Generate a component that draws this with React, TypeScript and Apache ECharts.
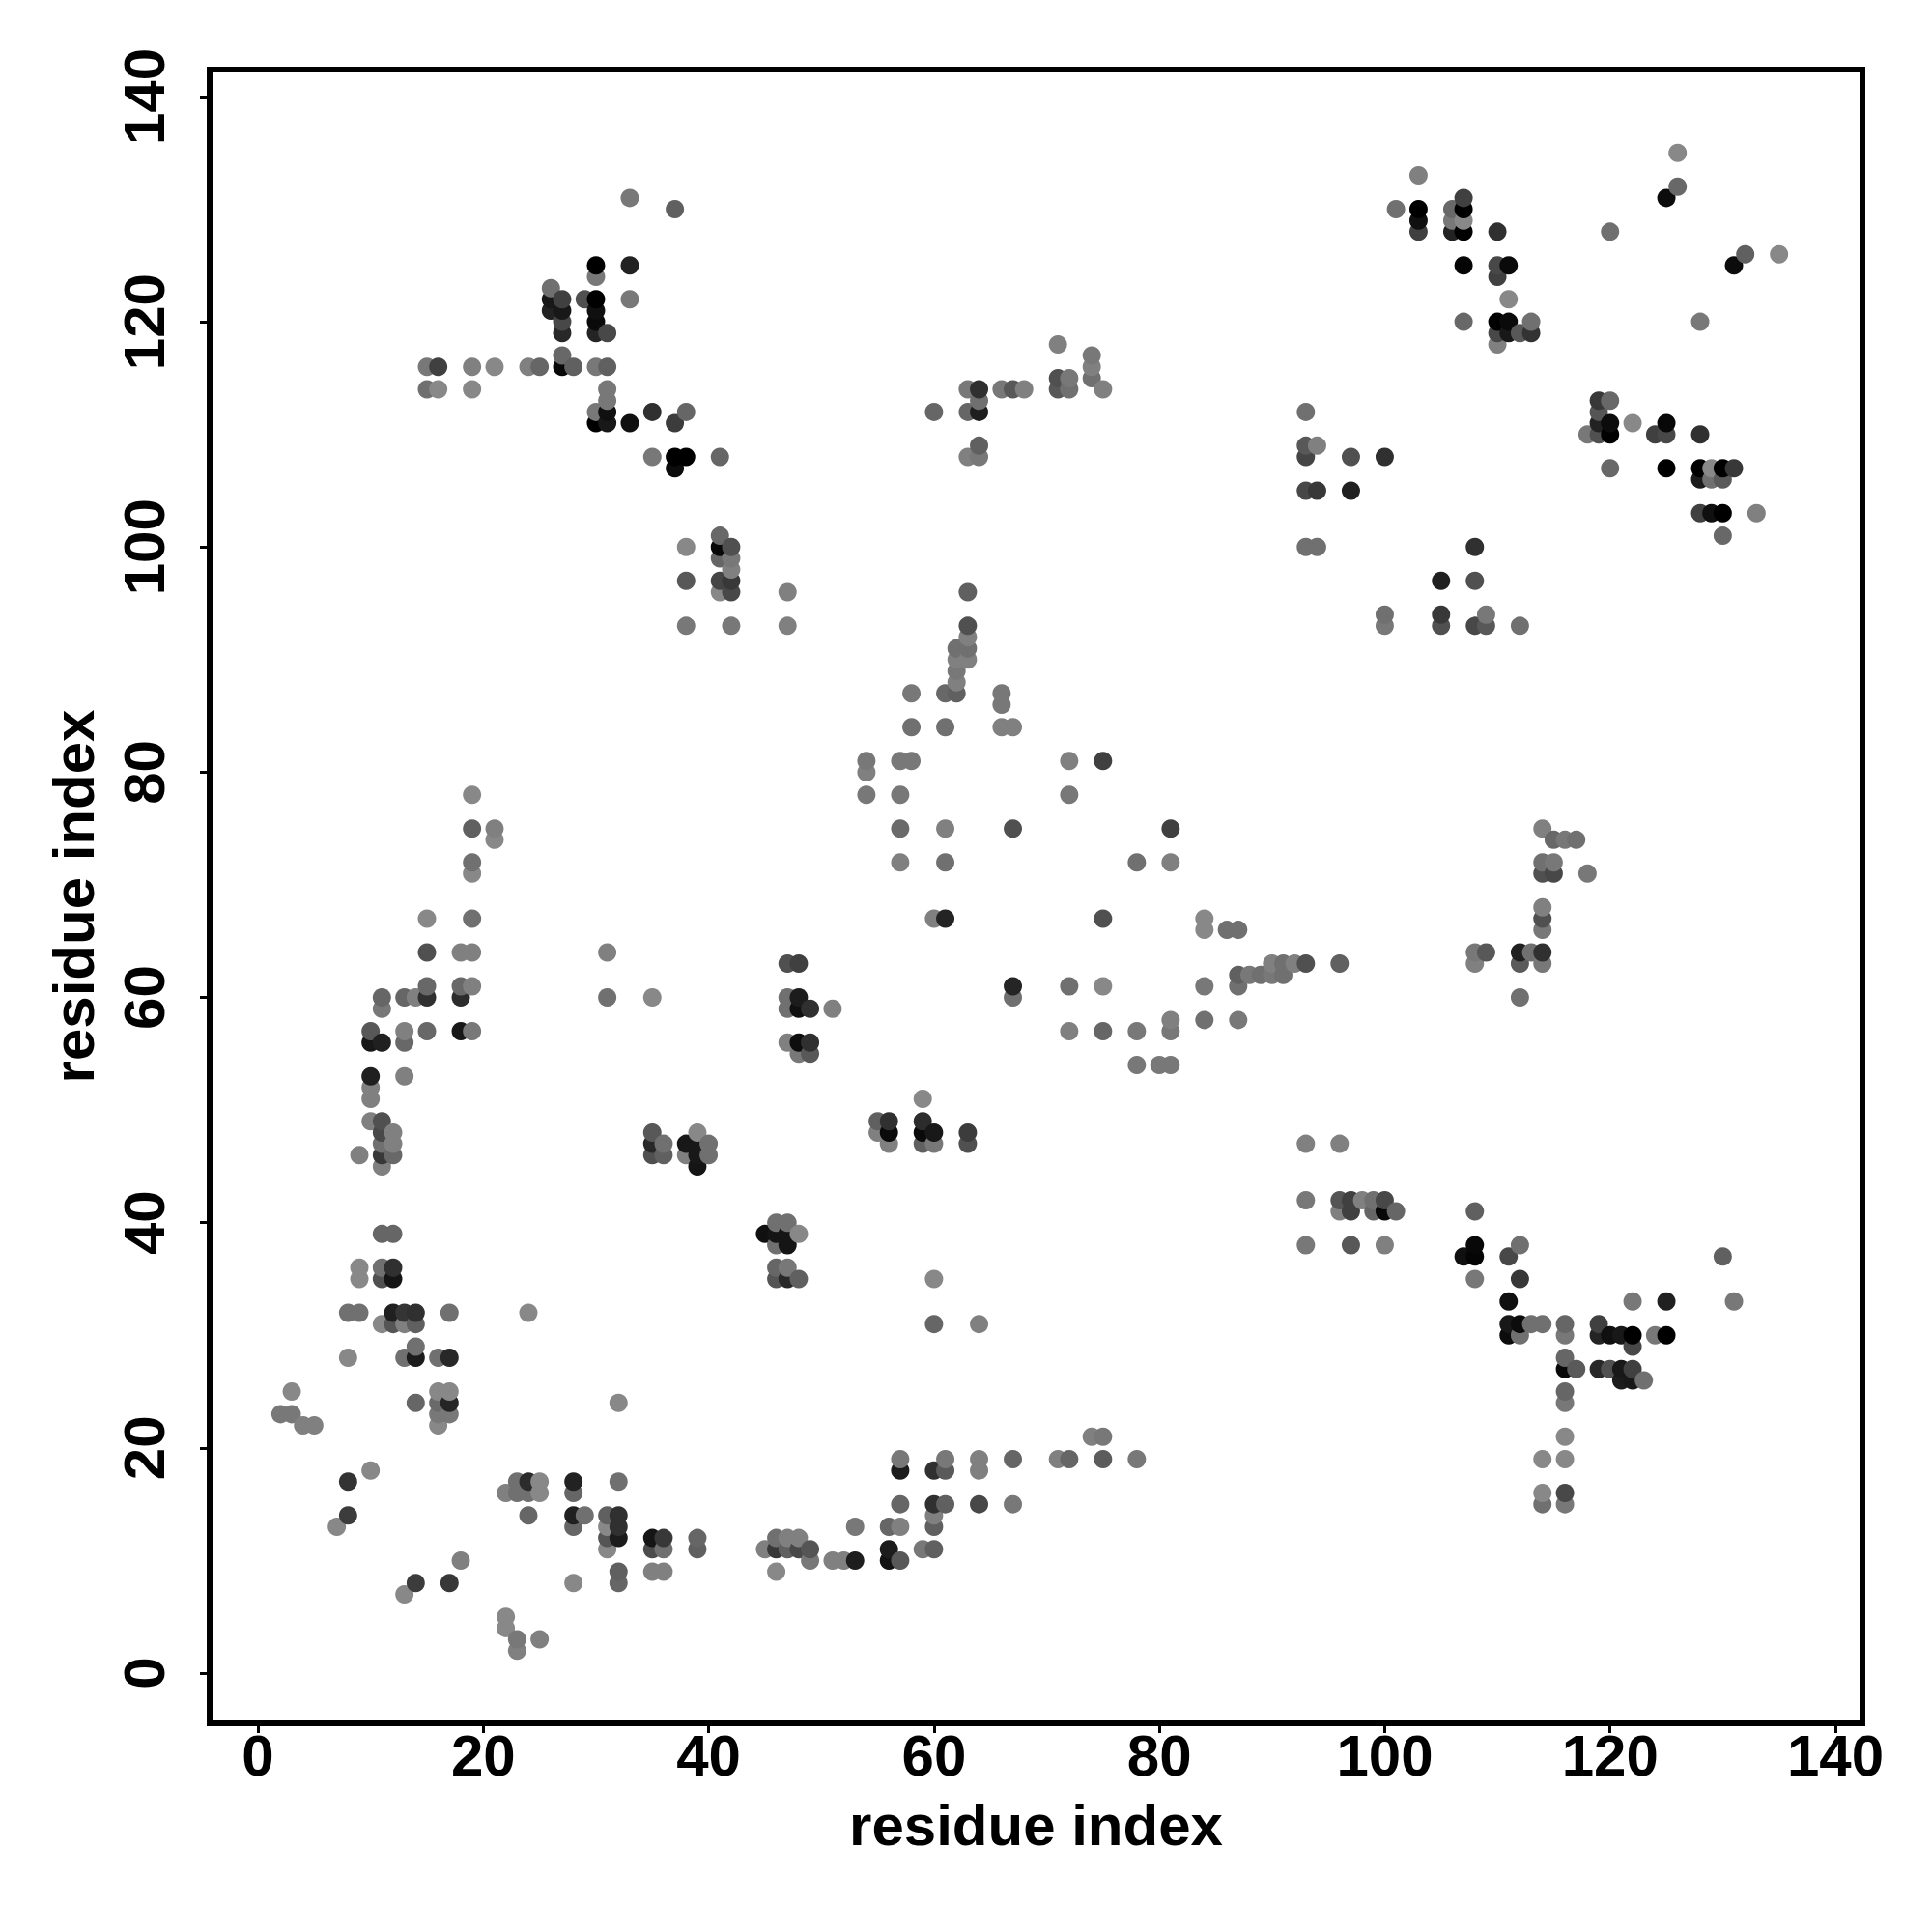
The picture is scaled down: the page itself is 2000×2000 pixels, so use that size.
import React, { useEffect, useRef } from "react";
import * as echarts from "echarts";

type Contact = [number, number, number]; // residue i, residue j, grey level of the dot

const tickValues = [0, 20, 40, 60, 80, 100, 120, 140];
const axisTitle = "residue index";

const lowerLeft: Contact[] = [
  [11,39,0x66],[12,39,0x66],[9,36,0x88],[11,36,0x70],[12,36,0x30],[9,35,0x88],[11,35,0x50],[12,35,0x15],
  [8,32,0x70],[9,32,0x70],[12,32,0x20],[13,32,0x35],[14,32,0x30],[17,32,0x70],[24,32,0x88],
  [11,31,0x88],[12,31,0x55],[13,31,0x80],[14,31,0x60],[14,29,0x70],
  [8,28,0x88],[13,28,0x70],[14,28,0x1c],[16,28,0x70],[17,28,0x28],
  [3,25,0x88],[16,25,0x88],[17,25,0x88],[14,24,0x66],[16,24,0x6a],[17,24,0x25],[32,24,0x88],
  [2,23,0x78],[3,23,0x78],[16,23,0x78],[17,23,0x78],[4,22,0x80],[5,22,0x80],[16,22,0x88],
  [10,18,0x88],[8,17,0x33],[23,17,0x70],[24,17,0x2c],[25,17,0x88],[28,17,0x22],[32,17,0x70],
  [22,16,0x80],[23,16,0x70],[24,16,0x70],[25,16,0x88],[28,16,0x66],
  [8,14,0x3c],[24,14,0x66],[28,14,0x20],[29,14,0x70],[31,14,0x60],[32,14,0x30],
  [7,13,0x88],[28,13,0x66],[31,13,0x88],[32,13,0x30],
  [31,12,0x55],[32,12,0x1c],[35,12,0x15],[36,12,0x38],[39,12,0x66],
  [31,11,0x88],[35,11,0x4c],[36,11,0x70],[39,11,0x60],[18,10,0x80],
  [32,9,0x60],[35,9,0x80],[36,9,0x80],[14,8,0x3c],[17,8,0x38],[28,8,0x88],[32,8,0x66],
  [13,7,0x88],[22,5,0x88],[22,4,0x88],[23,3,0x78],[25,3,0x80],[23,2,0x80],
];

const lowerMiddle: Contact[] = [
  [93,42,0x78],[93,38,0x78],[46,40,0x70],[47,40,0x70],[45,39,0x10],[46,39,0x15],[47,39,0x15],[48,39,0x88],
  [46,38,0x70],[47,38,0x15],[46,36,0x66],[47,36,0x78],[46,35,0x55],[47,35,0x28],[48,35,0x60],[60,35,0x88],
  [60,31,0x66],[64,31,0x80],[74,21,0x80],[75,21,0x78],
  [57,19,0x78],[61,19,0x78],[64,19,0x80],[67,19,0x66],[71,19,0x80],[72,19,0x66],[75,19,0x5c],[78,19,0x78],
  [57,18,0x1c],[60,18,0x30],[61,18,0x5a],[64,18,0x80],
  [57,15,0x66],[60,15,0x30],[61,15,0x60],[64,15,0x48],[67,15,0x78],[60,14,0x80],
  [53,13,0x78],[56,13,0x66],[57,13,0x80],[60,13,0x60],[46,12,0x70],[47,12,0x80],[48,12,0x80],
  [45,11,0x80],[46,11,0x38],[47,11,0x60],[48,11,0x48],[49,11,0x55],[56,11,0x1c],[59,11,0x78],[60,11,0x60],
  [49,10,0x78],[51,10,0x80],[52,10,0x80],[53,10,0x1e],[56,10,0x12],[57,10,0x58],[46,9,0x88],
];

const lowerRight: Contact[] = [
  [96,42,0x55],[97,42,0x40],[98,42,0x80],[99,42,0x70],[100,42,0x48],
  [96,41,0x80],[97,41,0x40],[99,41,0x66],[100,41,0x08],[101,41,0x66],[108,41,0x60],
  [97,38,0x58],[100,38,0x80],[108,38,0x08],[112,38,0x70],
  [107,37,0x10],[108,37,0x05],[111,37,0x48],[130,37,0x60],[108,35,0x78],[112,35,0x38],
  [111,33,0x10],[122,33,0x78],[125,33,0x20],[131,33,0x78],
  [111,31,0x18],[112,31,0x0c],[113,31,0x70],[114,31,0x70],[116,31,0x66],[119,31,0x40],
  [111,30,0x0c],[112,30,0x70],[116,30,0x78],[119,30,0x24],[120,30,0x10],[121,30,0x18],[122,30,0x00],[124,30,0x78],[125,30,0x00],
  [122,29,0x48],[116,28,0x66],
  [116,27,0x08],[117,27,0x5a],[119,27,0x28],[120,27,0x50],[121,27,0x18],[122,27,0x40],
  [121,26,0x1c],[122,26,0x18],[123,26,0x70],[116,25,0x66],[116,24,0x78],[116,21,0x88],
  [114,19,0x88],[116,19,0x88],[114,16,0x88],[116,16,0x48],[114,15,0x70],[116,15,0x78],
];

const middleLeft: Contact[] = [
  [19,78,0x88],[19,75,0x60],[21,75,0x80],[21,74,0x88],[19,72,0x70],[19,71,0x88],[15,67,0x88],[19,67,0x70],
  [15,64,0x50],[18,64,0x80],[19,64,0x80],[31,64,0x80],[15,61,0x68],[18,61,0x68],[19,61,0x80],
  [11,60,0x66],[13,60,0x66],[14,60,0x80],[15,60,0x30],[18,60,0x2c],[31,60,0x70],[35,60,0x88],[11,59,0x78],
  [10,57,0x58],[13,57,0x80],[15,57,0x68],[18,57,0x18],[19,57,0x78],[10,56,0x18],[11,56,0x20],[13,56,0x68],
  [10,53,0x20],[13,53,0x80],[10,52,0x80],[10,51,0x80],[10,49,0x80],[11,49,0x50],
  [11,48,0x48],[12,48,0x80],[11,47,0x70],[12,47,0x80],[9,46,0x80],[11,46,0x38],[12,46,0x68],[11,45,0x80],
  [35,48,0x58],[39,48,0x88],[35,47,0x28],[36,47,0x70],[38,47,0x18],[39,47,0x18],[40,47,0x70],
  [35,46,0x50],[36,46,0x60],[38,46,0x80],[39,46,0x18],[40,46,0x70],[39,45,0x15],
];

const center: Contact[] = [
  [63,92,0x80],[62,91,0x70],[63,91,0x70],[62,90,0x80],[63,90,0x80],[62,89,0x78],[62,88,0x80],
  [58,87,0x78],[61,87,0x68],[62,87,0x60],[66,87,0x78],[66,86,0x78],[58,84,0x70],[61,84,0x70],[66,84,0x80],[67,84,0x80],
  [54,81,0x78],[57,81,0x78],[58,81,0x78],[72,81,0x80],[75,81,0x40],[54,80,0x80],[54,78,0x78],[57,78,0x78],[72,78,0x78],
  [57,75,0x6a],[61,75,0x80],[67,75,0x50],[81,75,0x40],[57,72,0x80],[61,72,0x70],[78,72,0x70],[81,72,0x80],
  [60,67,0x80],[61,67,0x24],[75,67,0x50],[84,67,0x88],[84,66,0x88],[86,66,0x70],[87,66,0x70],
  [47,63,0x50],[48,63,0x40],[90,63,0x80],[91,63,0x70],[92,63,0x80],[93,63,0x50],
  [87,62,0x60],[88,62,0x78],[89,62,0x70],[90,62,0x78],[91,62,0x70],
  [67,61,0x25],[72,61,0x70],[75,61,0x88],[84,61,0x78],[87,61,0x70],[47,60,0x70],[48,60,0x1c],[67,60,0x70],
  [47,59,0x70],[48,59,0x10],[49,59,0x30],[51,59,0x80],[81,58,0x80],[84,58,0x70],[87,58,0x78],
  [72,57,0x80],[75,57,0x66],[78,57,0x78],[81,57,0x78],[47,56,0x80],[48,56,0x0e],[49,56,0x30],[48,55,0x78],[49,55,0x58],
  [78,54,0x78],[80,54,0x78],[81,54,0x78],[59,51,0x88],[55,49,0x60],[56,49,0x30],[59,49,0x2c],
  [55,48,0x80],[56,48,0x0a],[59,48,0x0a],[60,48,0x18],[63,48,0x3c],[56,47,0x80],[59,47,0x60],[60,47,0x78],[63,47,0x50],[93,47,0x80],
];

const middleRight: Contact[] = [
  [114,75,0x80],[115,74,0x68],[116,74,0x78],[117,74,0x70],[114,72,0x70],[115,72,0x78],[114,71,0x50],[115,71,0x48],[118,71,0x78],
  [114,68,0x80],[114,67,0x50],[114,66,0x78],[108,64,0x78],[109,64,0x58],[112,64,0x20],[113,64,0x70],[114,64,0x30],
  [96,63,0x60],[108,63,0x80],[112,63,0x5a],[114,63,0x78],[112,60,0x70],[96,47,0x80],
];

const upperLeft: Contact[] = [
  [33,131,0x78],[37,130,0x60],[30,125,0x00],[33,125,0x22],[30,124,0x78],[26,123,0x70],
  [26,122,0x18],[27,122,0x40],[29,122,0x50],[30,122,0x00],[33,122,0x78],[26,121,0x22],[27,121,0x18],[30,121,0x10],
  [27,120,0x48],[30,120,0x0a],[27,119,0x28],[30,119,0x24],[31,119,0x48],[27,117,0x68],
  [15,116,0x78],[16,116,0x40],[19,116,0x80],[21,116,0x88],[24,116,0x80],[25,116,0x66],[27,116,0x08],[28,116,0x60],[30,116,0x78],[31,116,0x60],
  [15,114,0x70],[16,114,0x88],[19,114,0x88],[31,114,0x78],[31,113,0x78],
  [30,112,0x78],[31,112,0x10],[35,112,0x30],[38,112,0x66],[30,111,0x00],[31,111,0x18],[33,111,0x10],[37,111,0x3c],
  [35,108,0x78],[37,108,0x00],[38,108,0x00],[41,108,0x66],[37,107,0x0c],
  [41,101,0x68],[38,100,0x88],[41,100,0x08],[42,100,0x50],[41,99,0x66],[42,99,0x78],[42,98,0x80],
  [38,97,0x58],[41,97,0x45],[42,97,0x38],[41,96,0x88],[42,96,0x48],[38,93,0x78],[42,93,0x78],
];

const upperMiddle: Contact[] = [
  [71,118,0x80],[74,117,0x78],[74,116,0x80],[71,115,0x50],[72,115,0x78],[74,115,0x70],
  [63,114,0x78],[64,114,0x30],[66,114,0x78],[67,114,0x58],[68,114,0x80],[71,114,0x58],[72,114,0x70],[75,114,0x80],
  [64,113,0x70],[60,112,0x66],[63,112,0x66],[64,112,0x1e],[93,112,0x70],[64,109,0x60],[93,109,0x58],[94,109,0x80],
  [63,108,0x80],[64,108,0x78],[93,108,0x45],[93,105,0x48],[94,105,0x38],[93,100,0x70],[94,100,0x70],
  [47,96,0x80],[63,96,0x60],[47,93,0x80],[63,93,0x50],
];

const upperRight: Contact[] = [
  [126,135,0x88],[103,133,0x80],[126,132,0x68],[107,131,0x40],[125,131,0x0c],
  [101,130,0x70],[103,130,0x00],[106,130,0x68],[107,130,0x00],[103,129,0x10],[106,129,0x78],[107,129,0x88],
  [103,128,0x40],[106,128,0x22],[107,128,0x00],[110,128,0x30],[120,128,0x70],[132,126,0x60],[135,126,0x88],
  [107,125,0x05],[110,125,0x48],[111,125,0x0a],[131,125,0x0c],[110,124,0x40],[111,122,0x88],
  [107,120,0x68],[110,120,0x00],[111,120,0x0a],[113,120,0x70],[128,120,0x78],
  [110,119,0x48],[111,119,0x18],[112,119,0x58],[113,119,0x33],[110,118,0x80],
  [119,113,0x38],[120,113,0x68],[119,112,0x55],[119,111,0x22],[120,111,0x0c],[122,111,0x88],[125,111,0x08],
  [118,110,0x78],[119,110,0x50],[120,110,0x00],[124,110,0x40],[125,110,0x48],[128,110,0x30],
  [97,108,0x50],[100,108,0x30],[120,107,0x68],[125,107,0x00],[128,107,0x00],[129,107,0x88],[130,107,0x00],[131,107,0x38],
  [128,106,0x1c],[129,106,0x70],[130,106,0x5a],[97,105,0x20],[128,103,0x40],[129,103,0x10],[130,103,0x00],[133,103,0x80],
  [130,101,0x68],[108,100,0x30],[105,97,0x20],[108,97,0x50],[100,94,0x70],[105,94,0x38],[109,94,0x78],
  [100,93,0x78],[105,93,0x50],[108,93,0x48],[109,93,0x58],[112,93,0x70],
];

const contacts = [
  ...lowerLeft, ...lowerMiddle, ...lowerRight, ...middleLeft, ...center,
  ...middleRight, ...upperLeft, ...upperMiddle, ...upperRight,
].sort((a, b) => a[0] - b[0] || a[1] - b[1]);

const FONT = "Liberation Sans";

export default function App() {
  const ref = useRef<HTMLDivElement>(null);
  useEffect(() => {
    const chart = echarts.init(ref.current!, null, { renderer: "svg" });
    const axisBase = {
      type: "value" as const,
      nameLocation: "middle" as const,
      name: axisTitle,
      nameTextStyle: { fontFamily: FONT, fontWeight: "bold" as const, fontSize: 60, color: "#000" },
      axisLine: { show: false, onZero: false },
      splitLine: { show: false },
      axisTick: { show: true, length: 10, inside: false, customValues: tickValues, lineStyle: { color: "#000", width: 3 } },
    };
    chart.setOption({
      animation: false,
      backgroundColor: "#fff",
      grid: {
        show: true, left: 217, top: 72, width: 1711, height: 1712,
        borderColor: "#000", borderWidth: 6, backgroundColor: "transparent",
      },
      xAxis: {
        ...axisBase, min: -4.29, max: 142.4, nameGap: 75,
        axisLabel: {
          customValues: tickValues, margin: 3, fontFamily: FONT, fontWeight: "bold",
          fontSize: 60, color: "#000", hideOverlap: false,
        },
      },
      yAxis: {
        ...axisBase, min: -4.46, max: 142.4, nameGap: 111,
        axisLabel: {
          customValues: tickValues, margin: 68, rotate: 90, fontFamily: FONT, fontWeight: "bold",
          fontSize: 60, color: "#000", align: "center", verticalAlign: "middle", hideOverlap: false,
        },
      },
      series: [{
        type: "scatter",
        symbol: "circle",
        symbolSize: 19,
        itemStyle: { opacity: 1 },
        data: contacts.map((c) => ({
          value: [c[0], c[1]],
          itemStyle: { color: `rgb(${c[2]},${c[2]},${c[2]})`, opacity: 1 },
        })),
      }],
    });
    return () => chart.dispose();
  }, []);
  return <div ref={ref} style={{ position: "absolute", left: 0, top: 0, width: 2000, height: 2000 }} />;
}
